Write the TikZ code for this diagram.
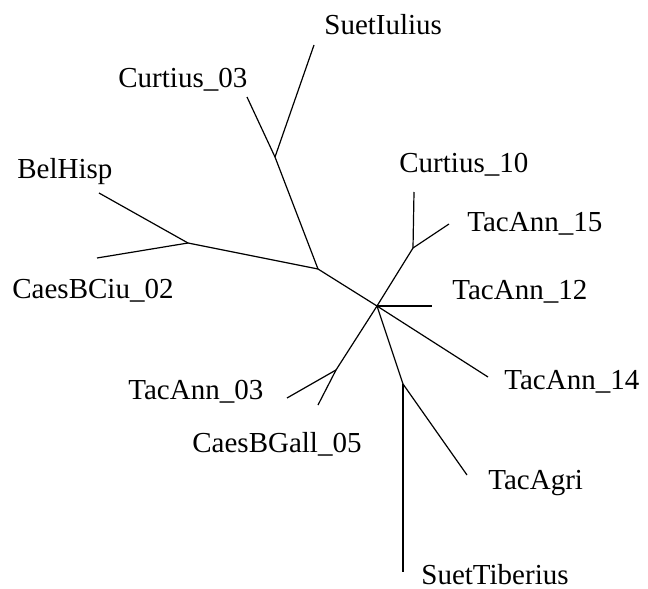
\documentclass[tikz,border=0pt]{standalone}
\usepackage{fontspec}
\setmainfont{Liberation Serif}
\begin{document}
\begin{tikzpicture}[x=0.5pt,y=-0.5pt,
  edge/.style={line width=0.6pt},
  leaflabel/.style={anchor=base west,inner sep=0pt,font=\fontsize{14.5}{17}\selectfont}]
\useasboundingbox (0,0) rectangle (648,589);
% internal nodes
\coordinate (C) at (377,306);
\coordinate (J1) at (275,157);
\coordinate (J2) at (188,243);
\coordinate (J3) at (318,269);
\coordinate (J4) at (413,248);
\coordinate (J5) at (336,370);
\coordinate (J6) at (403,384);
% leaf ends
\coordinate (LSuetIulius) at (314,45);
\coordinate (LCurtius03) at (247,97);
\coordinate (LBelHisp) at (99,193);
\coordinate (LCaesBCiu) at (97,258);
\coordinate (LCurtius10) at (414,192);
\coordinate (LTacAnn15) at (449,224);
\coordinate (LTacAnn12) at (432,306);
\coordinate (LTacAnn14) at (488,377);
\coordinate (LTacAnn03) at (287,398);
\coordinate (LCaesBGall) at (318,405);
\coordinate (LTacAgri) at (467,475);
\coordinate (LSuetTiberius) at (403,572);
% labels
\node[leaflabel] (tSuetIulius) at (324,34) {SuetIulius};
\node[leaflabel] (tCurtius03) at (118,87) {Curtius\_03};
\node[leaflabel] (tBelHisp) at (17,178) {BelHisp};
\node[leaflabel] (tCaesBCiu) at (12,298) {CaesBCiu\_02};
\node[leaflabel] (tCurtius10) at (399,172) {Curtius\_10};
\node[leaflabel] (tTacAnn15) at (467,231) {TacAnn\_15};
\node[leaflabel] (tTacAnn12) at (452,299) {TacAnn\_12};
\node[leaflabel] (tTacAnn14) at (504,389) {TacAnn\_14};
\node[leaflabel] (tTacAnn03) at (128,399) {TacAnn\_03};
\node[leaflabel] (tCaesBGall) at (192,452) {CaesBGall\_05};
\node[leaflabel] (tTacAgri) at (488,489) {TacAgri};
\node[leaflabel] (tSuetTiberius) at (421,584) {SuetTiberius};
% edges
\draw[edge] (C) -- (J3);
\draw[edge] (J3) -- (J1);
\draw[edge] (J1) -- (LSuetIulius);
\draw[edge] (J1) -- (LCurtius03);
\draw[edge] (J3) -- (J2);
\draw[edge] (J2) -- (LBelHisp);
\draw[edge] (J2) -- (LCaesBCiu);
\draw[edge] (C) -- (J4);
\draw[edge] (J4) -- (LCurtius10);
\draw[edge] (J4) -- (LTacAnn15);
\draw[edge] (C) -- (LTacAnn12);
\draw[edge] (C) -- (LTacAnn14);
\draw[edge] (C) -- (J5);
\draw[edge] (J5) -- (LTacAnn03);
\draw[edge] (J5) -- (LCaesBGall);
\draw[edge] (C) -- (J6);
\draw[edge] (J6) -- (LTacAgri);
\draw[edge] (J6) -- (LSuetTiberius);
\end{tikzpicture}
\end{document}
